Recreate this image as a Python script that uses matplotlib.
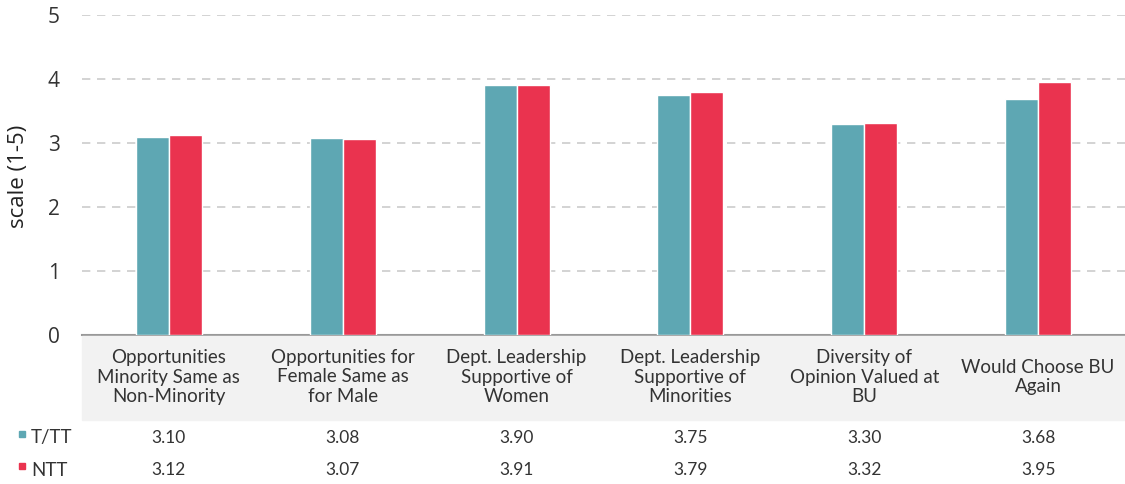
import numpy as np
import matplotlib
matplotlib.use("Agg")
import matplotlib.pyplot as plt
from matplotlib.patches import Rectangle

plt.rcParams['font.family'] = ['Lato', 'DejaVu Sans']

categories = ["Opportunities\nMinority Same as\nNon-Minority",
              "Opportunities for\nFemale Same as\nfor Male",
              "Dept. Leadership\nSupportive of\nWomen",
              "Dept. Leadership\nSupportive of\nMinorities",
              "Diversity of\nOpinion Valued at\nBU",
              "Would Choose BU\nAgain"]
series_names = ["T/TT", "NTT"]
tt = [3.10, 3.08, 3.90, 3.75, 3.30, 3.68]
ntt = [3.12, 3.07, 3.91, 3.79, 3.32, 3.95]
colors = ["#5ea7b3", "#ea334f"]

W, H = 1125, 484
fig = plt.figure(figsize=(W / 100, H / 100), dpi=100)
ax = fig.add_axes([82 / W, (H - 335) / H, (W - 82) / W, 320 / H])

x = np.arange(len(categories))
bw = 0.19
for vals, off, c in [(tt, -bw / 2, colors[0]), (ntt, bw / 2, colors[1])]:
    ax.bar(x + off, vals, bw, color=c, edgecolor="white", linewidth=1, zorder=3)

ax.set_xlim(-0.5, len(categories) - 0.5)
ax.set_ylim(0, 5)
ax.set_yticks(range(6))
ax.set_yticklabels([str(v) for v in range(6)], family=["Open Sans", "DejaVu Sans"])
ax.yaxis.grid(True, linestyle=(0, (5, 4)), color="#cccccc", linewidth=1.2, zorder=0)
for s in ["top", "right", "left"]:
    ax.spines[s].set_visible(False)
ax.spines["bottom"].set_color("#999999")
ax.spines["bottom"].set_linewidth(1.5)
ax.tick_params(axis="y", length=0, labelsize=15, pad=16, colors="#333333")
ax.tick_params(axis="x", length=0, labelbottom=False)

fig.text(19 / W, (H - 176) / H, "scale (1-5)", rotation=90, ha="center", va="center",
         fontsize=16, color="#222222", family=["Open Sans", "DejaVu Sans"])

# gray label band
fig.patches.append(Rectangle((82 / W, (H - 420) / H), (W - 82) / W, 84 / H,
                             transform=fig.transFigure, color="#f2f2f2", zorder=0))

to_fig = fig.transFigure
for i, lab in enumerate(categories):
    xf = to_fig.inverted().transform(ax.transData.transform((i, 0)))[0]
    fig.text(xf, (H - 377) / H, lab, ha="center", va="center", fontsize=13.5,
             color="#333333", linespacing=1.2)
    fig.text(xf, (H - 438) / H, f"{tt[i]:.2f}", ha="center", va="center",
             fontsize=12.5, color="#333333")
    fig.text(xf, (H - 470) / H, f"{ntt[i]:.2f}", ha="center", va="center",
             fontsize=12.5, color="#333333")

for name, c, yp in [(series_names[0], colors[0], 438), (series_names[1], colors[1], 470)]:
    fig.patches.append(Rectangle((19 / W, (H - yp + 1) / H), 6 / W, 6 / H,
                                 transform=fig.transFigure, color=c))
    fig.text(31 / W, (H - yp) / H, name, ha="left", va="center", fontsize=13.5, color="#333333")

fig.savefig("out.png", dpi=100)
